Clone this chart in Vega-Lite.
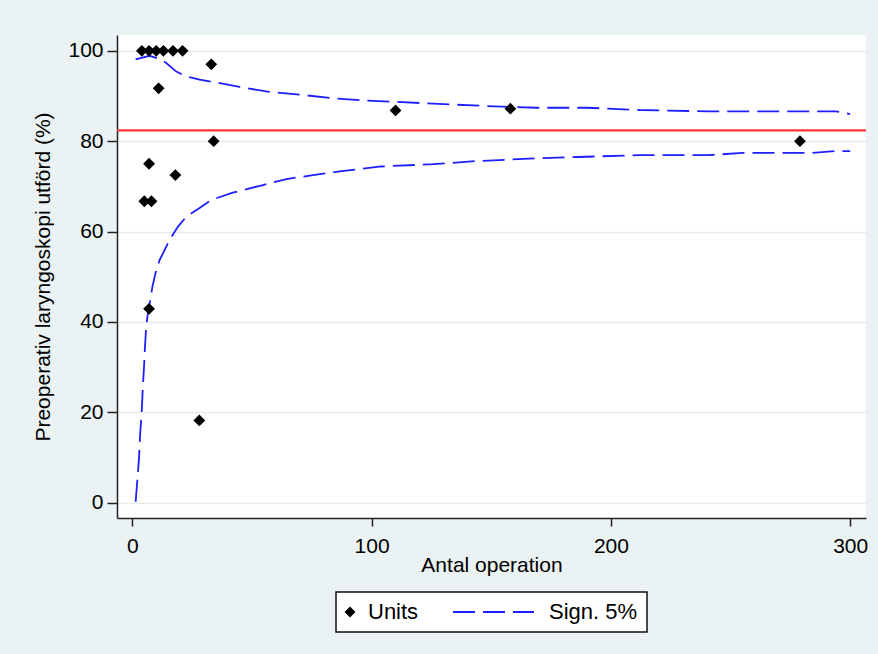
{
  "$schema": "https://vega.github.io/schema/vega-lite/v6.json",
  "width": 749,
  "height": 483,
  "autosize": {"type": "none"},
  "padding": {"left": 117, "top": 35, "right": 12, "bottom": 136},
  "background": "#EAF2F3",
  "config": {
    "font": "Liberation Sans",
    "view": {"fill": "#FFFFFF", "stroke": null},
    "axis": {
      "domainColor": "#222222", "domainWidth": 1.5,
      "tickColor": "#222222", "tickWidth": 1.5,
      "labelColor": "#000000", "titleColor": "#000000",
      "labelFont": "Liberation Sans", "titleFont": "Liberation Sans",
      "labelFontSize": 21, "titleFontSize": 21, "titleFontWeight": "normal",
      "gridColor": "#E4EDF0", "gridWidth": 1.5, "gridOpacity": 1
    },
    "axisX": {"grid": false, "tickSize": 8, "labelPadding": 9, "titlePadding": -2},
    "axisY": {"grid": true, "tickSize": 10, "labelPadding": 4, "titlePadding": 14}
  },
  "datasets": {
    "target": [{"target": 82.4}],
    "units": [
      {"n": 4, "pct": 100}, {"n": 7, "pct": 100}, {"n": 10, "pct": 100},
      {"n": 13, "pct": 100}, {"n": 17, "pct": 100}, {"n": 21, "pct": 100},
      {"n": 33, "pct": 97}, {"n": 11, "pct": 91.7}, {"n": 110, "pct": 86.8},
      {"n": 158, "pct": 87.2}, {"n": 279, "pct": 80}, {"n": 34, "pct": 80},
      {"n": 7, "pct": 75}, {"n": 18, "pct": 72.5}, {"n": 5, "pct": 66.7},
      {"n": 8, "pct": 66.7}, {"n": 7, "pct": 42.9}, {"n": 28, "pct": 18.2}
    ],
    "limits": [
      {"bound": "upper", "n": 1.4, "pct": 98.1}, {"bound": "upper", "n": 7.2, "pct": 98.9},
      {"bound": "upper", "n": 11.4, "pct": 98.2}, {"bound": "upper", "n": 14.2, "pct": 97.3},
      {"bound": "upper", "n": 18.4, "pct": 95.4}, {"bound": "upper", "n": 22.6, "pct": 94.3},
      {"bound": "upper", "n": 28.1, "pct": 93.6}, {"bound": "upper", "n": 35.1, "pct": 93.0},
      {"bound": "upper", "n": 44.8, "pct": 92.0}, {"bound": "upper", "n": 56, "pct": 91.0},
      {"bound": "upper", "n": 69.9, "pct": 90.3}, {"bound": "upper", "n": 83.8, "pct": 89.5},
      {"bound": "upper", "n": 96.8, "pct": 89.0}, {"bound": "upper", "n": 111, "pct": 88.7},
      {"bound": "upper", "n": 125.6, "pct": 88.3}, {"bound": "upper", "n": 147, "pct": 87.8},
      {"bound": "upper", "n": 168.8, "pct": 87.4}, {"bound": "upper", "n": 190, "pct": 87.4},
      {"bound": "upper", "n": 212, "pct": 86.9}, {"bound": "upper", "n": 240.7, "pct": 86.6},
      {"bound": "upper", "n": 269.5, "pct": 86.6}, {"bound": "upper", "n": 294, "pct": 86.6},
      {"bound": "upper", "n": 300, "pct": 86.0},
      {"bound": "lower", "n": 1.4, "pct": 0.2}, {"bound": "lower", "n": 2.1, "pct": 5.0},
      {"bound": "lower", "n": 2.8, "pct": 9.8}, {"bound": "lower", "n": 3.3, "pct": 15.4},
      {"bound": "lower", "n": 4.0, "pct": 20.9}, {"bound": "lower", "n": 4.4, "pct": 25.7},
      {"bound": "lower", "n": 4.9, "pct": 30.1}, {"bound": "lower", "n": 5.3, "pct": 34.5},
      {"bound": "lower", "n": 5.8, "pct": 39.0}, {"bound": "lower", "n": 6.5, "pct": 41.9},
      {"bound": "lower", "n": 7.5, "pct": 44.9}, {"bound": "lower", "n": 8.4, "pct": 47.8},
      {"bound": "lower", "n": 9.7, "pct": 50.8}, {"bound": "lower", "n": 11.4, "pct": 53.7},
      {"bound": "lower", "n": 13.5, "pct": 55.9}, {"bound": "lower", "n": 15.6, "pct": 58.2},
      {"bound": "lower", "n": 19.1, "pct": 61.1}, {"bound": "lower", "n": 22.6, "pct": 63.3},
      {"bound": "lower", "n": 28.1, "pct": 65.2}, {"bound": "lower", "n": 33, "pct": 67.0},
      {"bound": "lower", "n": 42, "pct": 68.6}, {"bound": "lower", "n": 54.6, "pct": 70.3},
      {"bound": "lower", "n": 64.4, "pct": 71.6}, {"bound": "lower", "n": 75.5, "pct": 72.5},
      {"bound": "lower", "n": 86.6, "pct": 73.3}, {"bound": "lower", "n": 104, "pct": 74.4},
      {"bound": "lower", "n": 125.6, "pct": 74.9}, {"bound": "lower", "n": 144, "pct": 75.6},
      {"bound": "lower", "n": 168.8, "pct": 76.2}, {"bound": "lower", "n": 186, "pct": 76.5},
      {"bound": "lower", "n": 212, "pct": 76.9}, {"bound": "lower", "n": 240.7, "pct": 76.9},
      {"bound": "lower", "n": 255, "pct": 77.4}, {"bound": "lower", "n": 284, "pct": 77.4},
      {"bound": "lower", "n": 294, "pct": 77.8}, {"bound": "lower", "n": 300, "pct": 77.8}
    ]
  },
  "layer": [
    {
      "data": {"name": "target"},
      "mark": {"type": "rule", "color": "#FF3535", "strokeWidth": 2.2},
      "encoding": {
        "y": {
          "field": "target", "type": "quantitative",
          "scale": {"domain": [-3.4, 103.5], "nice": false, "zero": false},
          "axis": {"values": [0, 20, 40, 60, 80, 100]},
          "title": "Preoperativ laryngoskopi utförd (%)"
        }
      }
    },
    {
      "data": {"name": "limits"},
      "mark": {"type": "line", "strokeWidth": 1.8, "strokeDash": [22, 8]},
      "encoding": {
        "x": {
          "field": "n", "type": "quantitative",
          "scale": {"domain": [-6.4, 306.6], "nice": false, "zero": false},
          "axis": {"values": [0, 100, 200, 300]},
          "title": "Antal operation"
        },
        "y": {
          "field": "pct", "type": "quantitative",
          "scale": {"domain": [-3.4, 103.5], "nice": false, "zero": false},
          "axis": {"values": [0, 20, 40, 60, 80, 100]},
          "title": "Preoperativ laryngoskopi utförd (%)"
        },
        "detail": {"field": "bound", "type": "nominal"},
        "color": {
          "datum": "Sign. 5%", "type": "nominal",
          "scale": {"domain": ["Units", "Sign. 5%"], "range": ["#000000", "#1E1EFF"]},
          "legend": {
            "title": null, "orient": "none", "legendX": 219, "legendY": 557,
            "direction": "horizontal", "padding": 9, "columnPadding": 30,
            "strokeColor": "#111111", "fillColor": "#FFFFFF",
            "labelFontSize": 22, "labelFont": "Liberation Sans", "labelColor": "#000000",
            "symbolSize": 100,
            "encode": {
              "legend": {"update": {"strokeWidth": {"value": 1.5}}},
              "symbols": {"update": {
                "shape": {"signal": "datum.value === 'Units' ? 'diamond' : 'stroke'"},
                "size": {"signal": "datum.value === 'Units' ? 120 : 6561"},
                "x": {"signal": "datum.value === 'Units' ? 5 : 40.5"},
                "fill": {"signal": "datum.value === 'Units' ? '#000000' : 'transparent'"},
                "stroke": {"signal": "datum.value === 'Units' ? '#000000' : '#1E1EFF'"},
                "strokeWidth": {"signal": "datum.value === 'Units' ? 0 : 2"},
                "strokeDash": {"signal": "datum.value === 'Units' ? [1, 0] : [22, 8]"},
                "opacity": {"value": 1}
              }},
              "labels": {"update": {
                "x": {"signal": "datum.value === 'Units' ? 23 : 96"}
              }}
            }
          }
        }
      }
    },
    {
      "data": {"name": "units"},
      "mark": {"type": "point", "shape": "diamond", "filled": true, "size": 140, "opacity": 1},
      "encoding": {
        "x": {
          "field": "n", "type": "quantitative",
          "scale": {"domain": [-6.4, 306.6], "nice": false, "zero": false},
          "axis": {"values": [0, 100, 200, 300]},
          "title": "Antal operation"
        },
        "y": {
          "field": "pct", "type": "quantitative",
          "scale": {"domain": [-3.4, 103.5], "nice": false, "zero": false},
          "axis": {"values": [0, 20, 40, 60, 80, 100]},
          "title": "Preoperativ laryngoskopi utförd (%)"
        },
        "color": {"datum": "Units", "type": "nominal"}
      }
    }
  ]
}
